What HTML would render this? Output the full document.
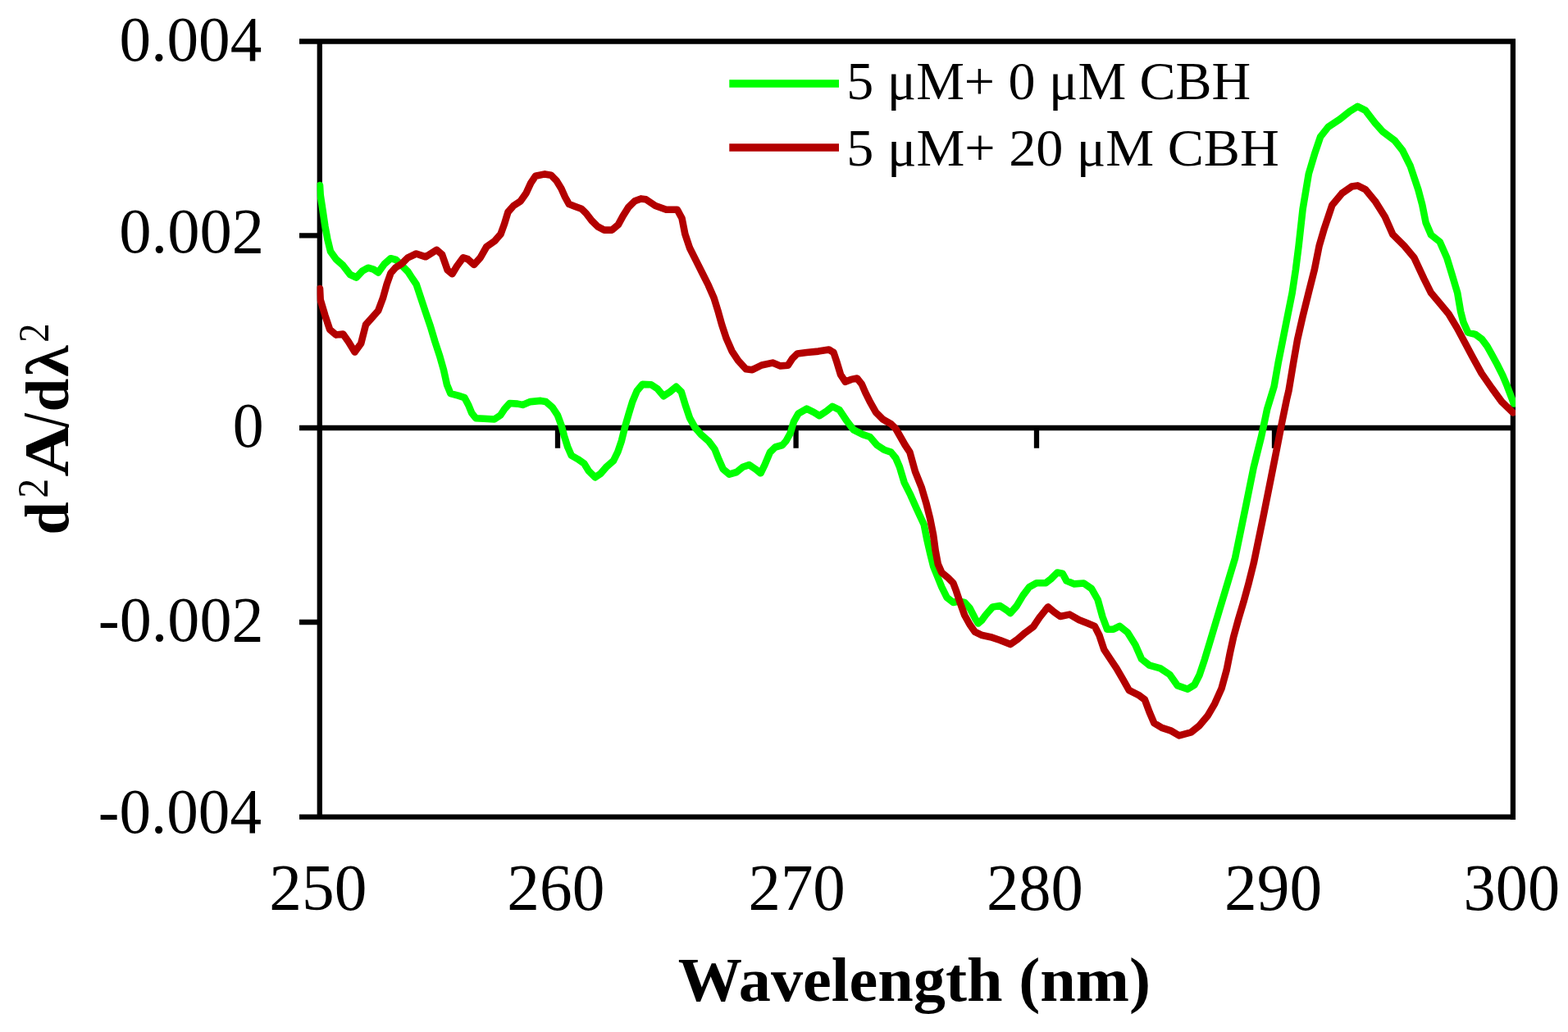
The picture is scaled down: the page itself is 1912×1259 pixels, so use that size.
<!DOCTYPE html>
<html><head><meta charset="utf-8"><title>d2A/dλ2 vs Wavelength</title>
<style>html,body{margin:0;padding:0;background:#fff;width:1912px;height:1259px;overflow:hidden}svg{display:block}</style>
</head><body>
<svg width="1912" height="1259" viewBox="0 0 1912 1259">
<rect width="1912" height="1259" fill="#fff"/>
<g fill="none" stroke="#000" stroke-width="6.3" stroke-linecap="butt">
<path d="M365,50.5 H1848 M389.8,47.3 V996.7 M1844.9,47.3 V1000 M365,996.7 H1848"/>
<path d="M365,287.4 H389.8 M365,759 H389.8 M365,522 H1845"/>
<path d="M680,522 V546.7 M970.6,522 V546.7 M1264,522 V546.7 M1554,522 V546.7"/>
</g>
<defs><clipPath id="pa"><rect x="386.6" y="0" width="1461.4" height="1259"/></clipPath></defs>
<g fill="none" stroke-width="8.6" stroke-linejoin="round" stroke-linecap="round" clip-path="url(#pa)">
<polyline stroke="#00ff00" points="390.0,226.0 390.7,238.0 393.6,257.0 396.4,276.0 399.3,291.4 403.0,306.7 409.8,316.2 418.3,323.8 427.0,335.0 434.5,338.5 442.0,330.5 448.8,326.7 455.5,328.6 461.2,332.4 468.8,322.0 476.4,315.2 483.0,317.0 489.8,323.8 497.4,331.4 503.0,340.0 507.6,346.7 513.3,363.8 519.0,381.0 524.8,398.0 530.5,417.0 536.2,434.3 541.0,451.4 545.0,469.4 549.4,480.1 558.8,482.6 566.4,485.1 571.4,494.5 575.2,503.9 580.2,510.2 590.2,510.8 602.8,511.5 610.3,506.5 615.3,498.9 621.6,492.0 631.0,492.6 637.3,493.9 646.7,490.1 659.3,488.9 665.6,490.0 673.4,496.7 680.0,506.7 684.5,518.9 687.8,531.2 692.3,545.6 696.7,555.6 704.5,560.1 712.3,565.6 717.8,574.5 725.6,582.3 732.3,577.9 739.0,570.1 747.9,562.3 753.4,551.2 757.9,537.8 762.3,520.0 766.8,504.5 771.2,490.0 776.8,476.7 783.4,468.9 794.0,469.2 801.6,474.3 809.2,483.2 816.9,478.1 824.5,471.8 830.8,478.1 835.9,494.7 841.0,509.9 847.4,521.4 855.0,530.3 863.9,537.9 871.5,548.0 876.6,560.8 881.7,572.2 889.3,578.6 898.2,576.0 905.8,569.7 913.5,567.1 921.1,572.2 927.5,577.3 932.5,567.1 938.9,551.9 945.3,545.5 954.1,543.0 958.5,538.0 963.6,528.7 967.9,514.4 973.6,504.4 983.6,498.7 992.2,502.9 999.3,507.2 1007.9,501.5 1015.0,495.8 1023.6,500.1 1032.2,513.0 1040.8,524.4 1052.2,530.1 1060.8,533.0 1069.4,543.0 1078.0,548.7 1086.5,551.6 1092.3,558.7 1096.9,569.5 1102.6,588.6 1110.3,603.9 1117.9,621.0 1126.7,640.0 1130.5,659.1 1134.3,675.6 1138.1,690.8 1143.2,703.5 1148.3,716.2 1154.6,728.9 1162.3,735.0 1169.0,733.5 1176.2,735.0 1182.6,742.0 1189.0,754.4 1192.8,760.5 1197.0,757.0 1201.7,750.5 1210.5,740.4 1219.4,739.1 1227.1,744.2 1232.1,748.0 1239.8,739.1 1247.4,726.4 1255.0,716.2 1263.9,711.2 1275.3,711.2 1281.7,706.1 1289.3,698.5 1295.7,699.7 1300.5,708.6 1310.0,712.4 1321.5,711.5 1331.0,718.1 1338.6,731.5 1344.4,752.5 1350.1,767.7 1357.7,767.7 1365.3,763.9 1374.9,771.5 1384.4,786.8 1392.0,804.0 1401.6,811.6 1414.9,815.4 1426.4,823.0 1435.9,836.4 1448.3,840.7 1456.5,835.5 1462.7,823.2 1468.9,804.6 1475.1,783.9 1481.3,763.3 1487.5,742.6 1493.7,722.0 1499.9,701.3 1506.1,680.7 1519.0,618.1 1528.6,570.5 1538.1,532.4 1545.2,499.0 1553.6,471.4 1558.6,442.9 1564.3,414.3 1570.0,385.7 1575.7,357.1 1580.0,328.6 1583.6,300.0 1588.6,255.0 1595.8,212.1 1602.9,188.2 1610.1,166.8 1619.6,154.8 1633.9,145.3 1645.8,135.8 1655.4,129.8 1664.9,134.6 1676.8,150.1 1686.4,160.8 1700.7,171.5 1710.2,183.5 1719.7,202.5 1729.3,231.1 1734.3,250.0 1738.6,271.5 1745.0,286.5 1755.7,295.0 1764.3,314.4 1770.8,335.8 1777.2,357.3 1781.1,380.0 1784.5,393.3 1790.0,405.6 1798.9,407.8 1806.7,413.4 1813.4,422.3 1819.0,432.3 1825.6,444.5 1832.3,457.9 1837.9,471.2 1843.4,485.7 1846.0,492.5"/>
<polyline stroke="#b30000" points="390.0,352.0 390.7,365.7 396.4,384.8 402.1,401.9 409.8,408.6 418.3,407.6 425.0,417.1 432.6,429.5 440.2,419.0 446.0,396.2 453.6,387.6 461.2,379.0 466.9,363.8 471.7,346.7 476.4,333.3 482.1,326.7 489.8,321.9 497.4,314.3 507.6,309.5 519.0,313.3 532.4,304.8 539.0,310.5 545.7,329.5 551.4,334.3 557.1,324.8 564.8,314.3 570.5,316.2 578.1,322.9 585.7,314.3 593.3,301.0 602.9,294.3 610.5,285.7 614.8,273.9 619.5,258.6 626.2,251.0 634.8,245.3 641.5,235.8 647.2,223.4 652.9,214.8 664.3,212.4 672.0,213.8 678.6,220.5 684.4,230.0 689.1,240.5 693.9,249.1 701.5,252.0 709.1,254.8 714.9,260.5 721.5,269.1 729.2,276.7 736.8,280.6 746.3,280.6 754.0,273.9 759.7,263.4 766.3,252.9 774.0,245.3 781.6,242.4 787.6,243.3 799.1,251.0 812.4,255.7 825.8,255.7 831.5,266.2 835.3,285.3 841.0,302.5 848.6,317.7 856.3,333.0 863.9,348.2 870.6,363.5 875.3,378.7 880.1,395.9 885.8,413.1 892.5,428.3 900.1,439.8 909.7,450.3 917.3,451.2 928.7,445.5 942.1,442.6 951.6,446.4 960.7,445.8 966.4,437.2 972.2,431.5 983.6,430.0 997.9,428.6 1010.8,426.5 1016.5,430.0 1020.8,442.9 1025.1,457.2 1030.8,465.8 1037.9,462.9 1045.1,461.5 1050.8,468.6 1055.1,478.6 1060.8,490.1 1068.0,502.9 1076.5,511.5 1086.5,517.2 1092.3,523.0 1098.0,533.0 1103.7,543.0 1109.4,551.6 1116.0,575.3 1123.6,594.3 1129.3,613.4 1134.1,632.5 1138.1,652.7 1140.7,671.8 1143.8,688.3 1148.3,698.5 1155.9,704.8 1162.3,711.2 1166.1,721.3 1171.2,736.6 1176.2,750.5 1182.6,762.0 1188.9,770.9 1196.6,774.7 1208.0,777.2 1219.4,781.0 1232.1,786.1 1241.0,779.8 1249.9,772.1 1260.1,764.5 1267.7,753.1 1277.9,740.4 1285.5,746.7 1292.9,752.0 1304.3,749.6 1315.8,756.3 1325.3,760.1 1334.8,763.9 1340.6,775.3 1346.3,792.5 1353.9,804.0 1361.5,815.4 1369.2,828.7 1376.8,842.1 1388.2,847.8 1395.9,853.5 1401.6,868.8 1407.3,882.1 1416.8,887.9 1428.3,891.7 1437.8,897.4 1452.4,893.4 1462.7,885.1 1473.0,872.7 1481.3,858.3 1489.6,839.7 1495.8,817.0 1499.9,796.3 1504.0,777.7 1510.2,755.0 1516.4,734.3 1522.6,711.6 1528.8,686.8 1540.5,630.0 1550.0,582.4 1557.1,546.7 1563.1,515.7 1569.0,487.1 1571.4,477.1 1577.1,442.9 1582.1,414.3 1588.6,385.7 1595.7,357.1 1602.9,328.6 1608.6,300.0 1614.8,278.8 1624.4,250.2 1636.3,235.9 1648.2,227.6 1655.4,226.4 1664.9,231.1 1676.8,245.4 1688.8,264.5 1698.3,286.0 1712.6,300.3 1724.5,314.6 1736.4,340.1 1745.0,357.3 1755.7,370.1 1766.5,383.0 1776.7,400.0 1785.6,416.7 1795.6,435.6 1806.7,455.6 1819.0,473.4 1831.2,490.1 1845.0,503.5"/>
</g>
<g font-family="'Liberation Serif', 'Times New Roman', serif" fill="#000">
<text transform="translate(145.61,73.92) scale(0.7721,0.7881)" font-size="100">0.004</text>
<text transform="translate(145.15,307.63) scale(0.7865,0.7866)" font-size="100">0.002</text>
<text transform="translate(283.87,544.84) scale(0.7571,0.7776)" font-size="100">0</text>
<text transform="translate(119.78,782.04) scale(0.7811,0.7791)" font-size="100">-0.002</text>
<text transform="translate(119.82,1015.94) scale(0.7711,0.7776)" font-size="100">-0.004</text>
<text transform="translate(328.32,1110.21) scale(0.7944,0.7970)" font-size="100">250</text>
<text transform="translate(618.32,1110.21) scale(0.7944,0.7970)" font-size="100">260</text>
<text transform="translate(912.44,1110.21) scale(0.7894,0.7970)" font-size="100">270</text>
<text transform="translate(1202.96,1110.21) scale(0.7859,0.7970)" font-size="100">280</text>
<text transform="translate(1493.03,1110.21) scale(0.7937,0.7970)" font-size="100">290</text>
<text transform="translate(1784.59,1110.21) scale(0.7830,0.7970)" font-size="100">300</text>
<text transform="translate(826.82,1220.71) scale(0.7829,0.7567)" font-size="100" font-weight="bold">Wavelength (nm)</text>
<text transform="translate(1032.34,120.95) scale(0.6599,0.6500)" font-size="100">5 μM+ 0 μM CBH</text>
<text transform="translate(1032.33,201.77) scale(0.6618,0.6442)" font-size="100">5 μM+ 20 μM CBH</text>
<text transform="translate(82.65,652.50) rotate(-90) scale(0.7240,0.7543)" font-size="100" font-weight="bold">d</text>
<text transform="translate(58.40,607.49) rotate(-90) scale(0.4725,0.5215)" font-size="100">2</text>
<text transform="translate(83.40,581.38) rotate(-90) scale(0.8786,0.7924)" font-size="100" font-weight="bold">A</text>
<text transform="translate(82.51,521.19) rotate(-90) scale(0.6100,0.7939)" font-size="100" font-weight="bold">/</text>
<text transform="translate(82.65,502.54) rotate(-90) scale(0.7340,0.7471)" font-size="100" font-weight="bold">d</text>
<text transform="translate(83.40,459.78) rotate(-90) scale(0.7771,0.7471)" font-size="100" font-weight="bold">λ</text>
<text transform="translate(58.90,417.66) rotate(-90) scale(0.4650,0.5292)" font-size="100">2</text>
</g>
<g stroke-width="9.3" stroke-linecap="butt">
<line x1="889.3" y1="102" x2="1023" y2="102" stroke="#00ff00"/>
<line x1="889.3" y1="180" x2="1023" y2="180" stroke="#b30000"/>
</g>
</svg>
</body></html>
